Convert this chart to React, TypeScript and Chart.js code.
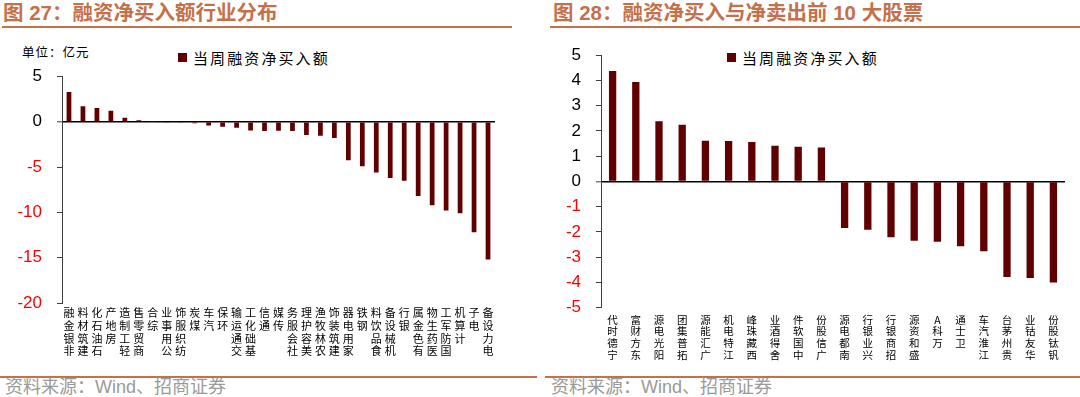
import React, { useEffect, useRef } from 'react';
import { Chart, registerables } from 'chart.js';

Chart.register(...registerables);

const seriesName = '当周融资净买入额';

const industryLabels = [
  '非银金融', '建筑材料', '石油石化', '房地产', '轻工制造', '商贸零售', '综合', '公用事业',
  '纺织服饰', '煤炭', '汽车', '环保', '交通运输', '基础化工', '通信', '传媒', '社会服务',
  '美容护理', '农林牧渔', '建筑装饰', '家用电器', '钢铁', '食品饮料', '机械设备', '银行',
  '有色金属', '医药生物', '国防军工', '计算机', '电子', '电力设备',
];
const industryValues = [
  3.3, 1.72, 1.52, 1.22, 0.44, 0.18, 0.03, -0.06,
  -0.1, -0.17, -0.4, -0.55, -0.67, -0.96, -1.02, -1.0, -1.02,
  -1.45, -1.55, -1.8, -4.25, -4.9, -5.6, -6.2, -6.5,
  -8.2, -9.2, -9.8, -10.1, -12.2, -15.2,
];
const industryAxis = [-20, 5, 5]; // min, max, step

const stockLabels = [
  '宁德时代', '东方财富', '阳光电源', '拓普集团', '广汇能源', '江特电机', '西藏珠峰', '舍得酒业',
  '中国软件', '广信股份', '南都电源', '兴业银行', '招商银行', '盛和资源', '万科A', '卫士通',
  '江淮汽车', '贵州茅台', '华友钴业', '钒钛股份',
];
const stockValues = [
  4.37, 3.94, 2.38, 2.25, 1.61, 1.6, 1.56, 1.41,
  1.37, 1.34, -1.84, -1.91, -2.21, -2.35, -2.39, -2.57,
  -2.76, -3.78, -3.82, -4.0,
];
const stockAxis = [-5, 5, 1]; // min, max, step

const titleLeft = '图 27：融资净买入额行业分布';
const titleRight = '图 28：融资净买入与净卖出前 10 大股票';
const unitText = '单位：亿元';
const sourceText = '资料来源：Wind、招商证券';

const BAR = '#600000';
const ACCENT = '#C4704A';

type ChartProps = {
  labels: string[];
  values: number[];
  axis: number[];
  left: number;
  top: number;
  width: number;
  height: number;
  padTop: number;
  padRight: number;
  axisWidth: number;
  xHeight: number;
  barPct: number;
  labelSize: number;
  labelLine: number;
  labelPad: number;
};

function BarChart(p: ChartProps) {
  const ref = useRef<HTMLCanvasElement | null>(null);
  useEffect(() => {
    if (!ref.current) return;
    const chart = new Chart(ref.current, {
      type: 'bar',
      data: {
        labels: p.labels.map((s) => Array.from(s).reverse()),
        datasets: [
          {
            label: seriesName,
            data: p.values,
            backgroundColor: BAR,
            borderWidth: 0,
            barPercentage: p.barPct,
            categoryPercentage: 1,
          },
        ],
      },
      options: {
        animation: false,
        responsive: false,
        devicePixelRatio: 1,
        layout: { padding: { top: p.padTop, right: p.padRight, left: 0, bottom: 0 } },
        plugins: { legend: { display: false }, tooltip: { enabled: false } },
        scales: {
          x: {
            grid: { display: false, drawTicks: false },
            border: { display: false },
            ticks: {
              autoSkip: false,
              maxRotation: 0,
              minRotation: 0,
              padding: p.labelPad,
              color: '#000',
              font: { family: "'Noto Sans CJK SC', sans-serif", size: p.labelSize, lineHeight: p.labelLine },
            },
            afterFit: (s: any) => {
              s.height = p.xHeight;
            },
          },
          y: {
            min: p.axis[0],
            max: p.axis[1],
            z: 1,
            ticks: {
              stepSize: p.axis[2],
              padding: 15,
              color: (ctx: any) => (ctx.tick && ctx.tick.value < 0 ? '#ff0000' : '#000'),
              font: { family: "'Liberation Sans', Arial, sans-serif", size: 17 },
            },
            grid: {
              drawTicks: true,
              tickLength: 5,
              tickColor: '#404040',
              tickWidth: 1,
              color: (ctx: any) => (ctx.tick && ctx.tick.value === 0 ? '#000' : 'rgba(0,0,0,0)'),
              lineWidth: (ctx: any) => (ctx.tick && ctx.tick.value === 0 ? 1.6 : 1),
            },
            border: { display: true, color: '#404040', width: 1 },
            afterFit: (s: any) => {
              s.width = p.axisWidth;
            },
          },
        },
      },
    } as any);
    return () => chart.destroy();
  }, []);
  return (
    <canvas
      ref={ref}
      width={p.width}
      height={p.height}
      style={{ position: 'absolute', left: p.left, top: p.top, width: p.width, height: p.height }}
    />
  );
}

const cjk = "'Noto Sans CJK SC', sans-serif";
const mixed = "'Liberation Sans', Arial, 'Noto Sans CJK SC', sans-serif";

function Legend({ x }: { x: number }) {
  return (
    <div style={{ position: 'absolute', left: x, top: 46, height: 22, display: 'flex', alignItems: 'center' }}>
      <div style={{ width: 9, height: 9, background: BAR, marginRight: 6 }} />
      <div style={{ fontFamily: cjk, fontSize: 15, letterSpacing: 2.1, color: '#000', whiteSpace: 'nowrap' }}>
        {seriesName}
      </div>
    </div>
  );
}

export default function App() {
  return (
    <div
      style={{
        position: 'fixed',
        left: 0,
        top: 0,
        width: 1080,
        height: 397,
        background: '#fff',
        overflow: 'hidden',
      }}
    >
      <div
        style={{
          position: 'absolute', left: 3, top: 1, fontFamily: mixed, fontWeight: 'bold',
          fontSize: 20.5, color: ACCENT, whiteSpace: 'nowrap', lineHeight: '24px',
        }}
      >
        {titleLeft}
      </div>
      <div
        style={{
          position: 'absolute', left: 553, top: 1, fontFamily: mixed, fontWeight: 'bold',
          fontSize: 20.5, color: ACCENT, whiteSpace: 'nowrap', lineHeight: '24px',
        }}
      >
        {titleRight}
      </div>
      <div style={{ position: 'absolute', left: 2, top: 26, width: 510, height: 2, background: ACCENT }} />
      <div style={{ position: 'absolute', left: 550, top: 26, width: 530, height: 2, background: ACCENT }} />

      <div
        style={{
          position: 'absolute', left: 22, top: 44, fontFamily: cjk, fontSize: 12.5,
          letterSpacing: 1, color: '#000', whiteSpace: 'nowrap', lineHeight: '16px',
        }}
      >
        {unitText}
      </div>
      <Legend x={178} />
      <Legend x={727} />

      <BarChart
        labels={industryLabels}
        values={industryValues}
        axis={industryAxis}
        left={0}
        top={30}
        width={540}
        height={340}
        padTop={46.5}
        padRight={45}
        axisWidth={62}
        xHeight={67}
        barPct={0.34}
        labelSize={11}
        labelLine={1.14}
        labelPad={4}
      />
      <BarChart
        labels={stockLabels}
        values={stockValues}
        axis={stockAxis}
        left={540}
        top={30}
        width={540}
        height={340}
        padTop={17.3}
        padRight={15}
        axisWidth={61}
        xHeight={62.3}
        barPct={0.315}
        labelSize={10.5}
        labelLine={1.12}
        labelPad={6}
      />

      <div style={{ position: 'absolute', left: 0, top: 376, width: 537, height: 2, background: ACCENT }} />
      <div style={{ position: 'absolute', left: 545, top: 376, width: 535, height: 2, background: ACCENT }} />
      <div
        style={{
          position: 'absolute', left: 5, top: 378, fontFamily: mixed, fontSize: 18,
          color: '#9a9a9a', whiteSpace: 'nowrap', lineHeight: '19px',
        }}
      >
        {sourceText}
      </div>
      <div
        style={{
          position: 'absolute', left: 551, top: 378, fontFamily: mixed, fontSize: 18,
          color: '#9a9a9a', whiteSpace: 'nowrap', lineHeight: '19px',
        }}
      >
        {sourceText}
      </div>
    </div>
  );
}
